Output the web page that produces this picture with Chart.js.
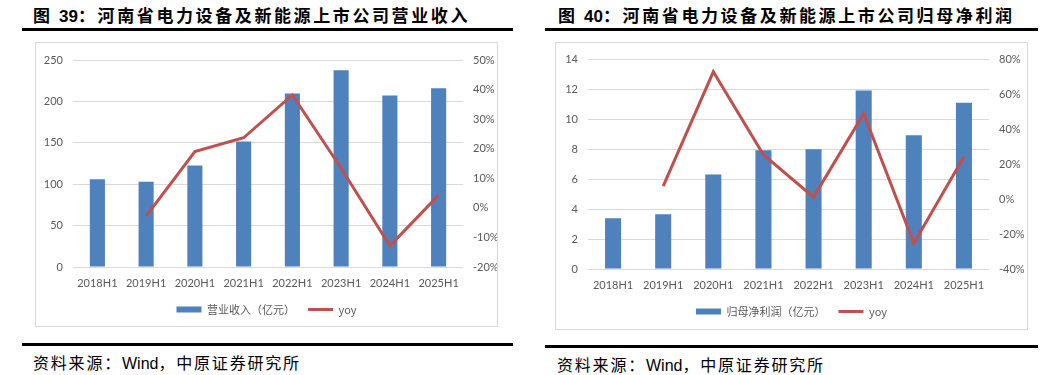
<!DOCTYPE html>
<html lang="zh">
<head>
<meta charset="UTF-8">
<title>河南省电力设备及新能源上市公司</title>
<script src="https://cdn.jsdelivr.net/npm/chart.js"></script>
<style>
  body { margin: 0; background: #fff; width: 1058px; height: 375px; position: relative; overflow: hidden; }
  .title { position: absolute; top: 4px; font-family: "Noto Sans CJK SC", sans-serif; font-weight: 700; font-size: 17px; line-height: 22px; letter-spacing: 2.6px; color: #000; white-space: nowrap; }
  .title .num { font-family: "Liberation Sans", Arial, sans-serif; letter-spacing: 0; }
  .rule { position: absolute; height: 3px; background: #000; }
  .box { position: absolute; top: 42px; border: 1px solid #d9d9d9; box-sizing: border-box; }
  .box > div { position: absolute; left: 0; top: 0; right: 0; bottom: 0; }
  .src { position: absolute; font-family: "Noto Sans CJK SC", sans-serif; font-size: 16px; line-height: 20px; letter-spacing: 1.8px; color: #000; white-space: nowrap; }
  .src .en { font-family: "Liberation Sans", Arial, sans-serif; letter-spacing: 0; }
</style>
</head>
<body>
<div class="title" style="left:33px;">图 <span class="num">39</span>：河南省电力设备及新能源上市公司营业收入</div>
<div class="rule" style="left:22px; top:28px; width:491px;"></div>
<div class="box" style="left:35px; width:463px; height:285px;"><div><canvas id="revChart"></canvas></div></div>
<div class="rule" style="left:22px; top:343px; width:491px;"></div>
<div class="src" style="left:33px; top:352px;">资料来源：<span class="en">Wind</span>，中原证券研究所</div>

<div class="title" style="left:558px;">图 <span class="num">40</span>：河南省电力设备及新能源上市公司归母净利润</div>
<div class="rule" style="left:545px; top:28px; width:493px;"></div>
<div class="box" style="left:555px; width:473px; height:288px;"><div><canvas id="profitChart"></canvas></div></div>
<div class="rule" style="left:545px; top:345px; width:493px;"></div>
<div class="src" style="left:557px; top:354px;">资料来源：<span class="en">Wind</span>，中原证券研究所</div>

<script>
// categories
const periods = ['2018H1', '2019H1', '2020H1', '2021H1', '2022H1', '2023H1', '2024H1', '2025H1'];

// 营业收入（亿元）and yoy (%)
const revenue = [106, 103, 122.5, 151.5, 209.5, 237.5, 207, 216];
const revenueYoy = [null, -2.8, 19, 23.7, 38.2, 13.4, -12.8, 4.3];

// 归母净利润（亿元）and yoy (%)
const profit = [3.4, 3.66, 6.32, 7.94, 8.01, 11.94, 8.94, 11.11];
const profitYoy = [null, 7.5, 73, 25.5, 1.2, 49, -25.2, 24.3];

const BAR_BLUE = '#4f81bd';
const LINE_RED = '#c0504d';
const TICK_GREY = '#595959';
const tickFont = { family: 'Lato, "Noto Sans", sans-serif', size: 11 };

function fixedWidth(w) { return scale => { scale.width = w; }; }
function fixedHeight(h) { return scale => { scale.height = h; }; }

function makeChart(id, barLabel, bars, yoy, cfg) {
    const ctx = document.getElementById(id).getContext('2d');
    return new Chart(ctx, {
        type: 'bar',
        data: {
            labels: periods,
            datasets: [
                {
                    type: 'line',
                    label: 'yoy',
                    data: yoy,
                    yAxisID: 'y1',
                    borderColor: LINE_RED,
                    backgroundColor: LINE_RED,
                    borderWidth: 3,
                    pointRadius: 0,
                    pointStyle: 'line',
                    tension: 0,
                    order: 1
                },
                {
                    label: barLabel,
                    data: bars,
                    yAxisID: 'y',
                    backgroundColor: BAR_BLUE,
                    borderWidth: 0,
                    pointStyle: 'rect',
                    categoryPercentage: 1,
                    barPercentage: cfg.barPct,
                    order: 2
                }
            ]
        },
        options: {
            responsive: true,
            maintainAspectRatio: false,
            animation: false,
            layout: { padding: { top: cfg.padTop, bottom: cfg.padBottom, left: 0, right: 0 } },
            plugins: {
                tooltip: { enabled: false },
                legend: {
                    position: 'bottom',
                    reverse: true,
                    labels: {
                        usePointStyle: true,
                        pointStyleWidth: 25,
                        boxHeight: 6,
                        padding: 13,
                        color: TICK_GREY,
                        font: { family: '"Noto Sans CJK SC", Lato, sans-serif', size: 11 }
                    }
                }
            },
            scales: {
                x: {
                    grid: { display: false, drawTicks: false },
                    border: { display: false },
                    ticks: { color: TICK_GREY, font: tickFont, padding: 10, maxRotation: 0, autoSkip: false },
                    afterFit: fixedHeight(cfg.xHeight)
                },
                y: {
                    position: 'left',
                    min: cfg.yMin, max: cfg.yMax,
                    ticks: { stepSize: cfg.yStep, color: TICK_GREY, font: tickFont, padding: 10 },
                    grid: { color: '#d9d9d9', lineWidth: 1, drawTicks: false },
                    border: { display: false },
                    afterFit: fixedWidth(cfg.leftW)
                },
                y1: {
                    position: 'right',
                    min: cfg.pMin, max: cfg.pMax,
                    ticks: { stepSize: cfg.pStep, color: TICK_GREY, font: tickFont, padding: 10, callback: v => v + '%' },
                    grid: { display: false, drawTicks: false },
                    border: { display: false },
                    afterFit: fixedWidth(cfg.rightW)
                }
            }
        }
    });
}

makeChart('revChart', '营业收入（亿元）', revenue, revenueYoy, {
    barPct: 0.31, padTop: 17, padBottom: 1, xHeight: 24, leftW: 37, rightW: 34,
    yMin: 0, yMax: 250, yStep: 50, pMin: -20, pMax: 50, pStep: 10
});

makeChart('profitChart', '归母净利润（亿元）', profit, profitYoy, {
    barPct: 0.32, padTop: 15, padBottom: 2, xHeight: 24, leftW: 32, rightW: 38,
    yMin: 0, yMax: 14, yStep: 2, pMin: -40, pMax: 80, pStep: 20
});
</script>
</body>
</html>
